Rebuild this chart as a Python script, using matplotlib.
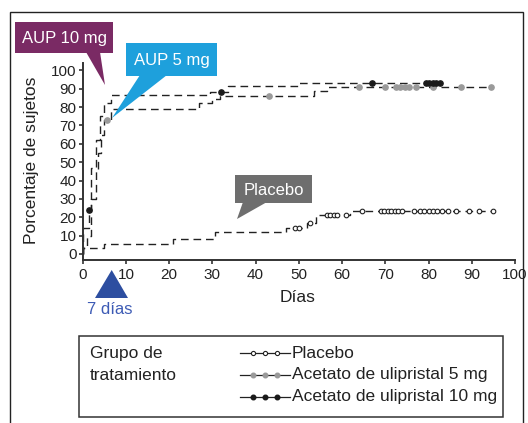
import numpy as np
import matplotlib
matplotlib.use("Agg")
import matplotlib.pyplot as plt
from matplotlib.patches import Polygon, Rectangle

plt.rcParams["font.family"] = ["Liberation Sans", "DejaVu Sans"]

W, H = 528, 423

# step curves (day, % of subjects) and censored days
t_10 = [0, 0, 1.5, 2.0, 3.0, 4.0, 5.0, 6.5, 29.5, 33.5, 50.0, 83.0]
p_10 = [0, 14, 24, 47, 62, 75, 82, 86.5, 88, 91.5, 93, 93]
c_10 = [1.5, 32, 67, 79.3, 80.2, 81.0, 81.8, 82.6]

t_5 = [0, 0, 1.0, 2.0, 3.0, 3.6, 4.3, 5.0, 6.5, 27.0, 30.0, 31.8, 53.5, 56.5, 94.5]
p_5 = [0, 3, 10, 30, 45, 55, 65, 73, 79, 82, 84.6, 86, 89, 91, 91]
c_5 = [5.7, 43, 64, 70, 72.5, 73.5, 74.5, 75.5, 77, 81, 87.5, 94.5]

t_pl = [0, 0, 5.0, 21.0, 30.5, 47.0, 52.0, 54.0, 61.8, 95.0]
p_pl = [0, 3.5, 5.5, 8, 12, 14.3, 16.7, 21, 23.5, 23.5]
c_pl = [49, 50, 52.5, 56.5, 57.3, 58.1, 58.9, 60.8, 64.5, 69, 69.8, 70.6,
        71.4, 72.2, 73, 73.8, 76.6, 78, 79, 80, 81, 82, 83, 84.5, 86.3,
        89.4, 91.7, 94.8]

groups = ["Placebo", "Acetato de ulipristal 5 mg", "Acetato de ulipristal 10 mg"]


def px(x, y):
    return x / W, 1 - y / H


def level(t, p, c):
    idx = np.searchsorted(t, c, side="right") - 1
    return np.array(p)[idx]


fig = plt.figure(figsize=(W / 100, H / 100), dpi=100)

# outer frame
fig.patches.append(Rectangle(px(10, 440), 513 / W, 428 / H, transform=fig.transFigure,
                             fill=False, edgecolor="#222222", lw=1.0))

x0, x1 = 82.7, 515
ytop, ybot = 63, 259.5
ax = fig.add_axes([x0 / W, 1 - ybot / H, (x1 - x0) / W, (ybot - ytop) / H])

dash = (0, (5.5, 3.5))
ax.step(t_pl, p_pl, where="post", color="#222222", lw=1.0, ls=dash, clip_on=False)
ax.step(t_5, p_5, where="post", color="#222222", lw=1.0, ls=dash, clip_on=False)
ax.step(t_10, p_10, where="post", color="#222222", lw=1.0, ls=dash, clip_on=False)

ax.plot(c_pl, level(t_pl, p_pl, c_pl), "o", ms=3.3, mfc="white", mec="#222222", mew=0.8, clip_on=False)
ax.plot(c_5, level(t_5, p_5, c_5), "o", ms=3.8, mfc="#9a9a9a", mec="#9a9a9a", clip_on=False)
ax.plot(c_10, level(t_10, p_10, c_10), "o", ms=3.8, mfc="#1a1a1a", mec="#1a1a1a", clip_on=False)

ax.set_xlim(0, 100)
ax.set_ylim(-3, 104)
ax.set_xticks(range(0, 101, 10))
ax.set_yticks(range(0, 101, 10))
ax.tick_params(direction="out", length=3, width=1.1, labelsize=11, pad=1.5, colors="#222222")
ax.tick_params(axis="x", pad=3)
for s in ["top", "right"]:
    ax.spines[s].set_visible(False)
for s in ["left", "bottom"]:
    ax.spines[s].set_linewidth(1.4)
    ax.spines[s].set_color("#333333")
ax.spines["left"].set_bounds(-3, 104)

fig.text(*px(32, 160), "Porcentaje de sujetos", rotation=90, ha="center", va="center",
         fontsize=12.5, color="#222222")
fig.text(*px(298, 297), "Días", ha="center", va="center", fontsize=12.5, color="#222222")


def callout(box, base, tip, color, label):
    bx0, by0, bx1, by1 = box
    fig.patches.append(Polygon([px(bx0, by0), px(bx1, by0), px(bx1, by1), px(bx0, by1)],
                               closed=True, transform=fig.transFigure, color=color, lw=0))
    fig.patches.append(Polygon([px(base[0], by1 - 1), px(base[1], by1 - 1), px(*tip)],
                               closed=True, transform=fig.transFigure, color=color, lw=0))
    fig.text(*px((bx0 + bx1) / 2, (by0 + by1) / 2 + 1), label, ha="center", va="center",
             color="white", fontsize=12)


callout((15, 22, 113, 53), (86, 100), (105, 85), "#7a2a64", "AUP 10 mg")
callout((126, 43, 217, 76), (140, 167), (112, 118), "#1ea0dc", "AUP 5 mg")
callout((235, 175, 312, 203), (243, 267), (237, 219), "#6e6e6e", "Placebo")

# 7 days marker
fig.patches.append(Polygon([px(111.7, 270), px(95, 298), px(128, 298)], closed=True,
                           transform=fig.transFigure, color="#2d4ea0", lw=0))
fig.text(*px(110, 310), "7 días", ha="center", va="center", fontsize=12, color="#3d5bb5")

# legend box
fig.patches.append(Rectangle(px(79, 417), (503 - 79) / W, (417 - 336) / H,
                             transform=fig.transFigure, fill=False, edgecolor="#333333", lw=1.1))
fig.text(*px(90, 353), "Grupo de", ha="left", va="center", fontsize=12.5, color="#222222")
fig.text(*px(90, 375), "tratamiento", ha="left", va="center", fontsize=12.5, color="#222222")

leg_styles = [dict(mfc="white", mec="#222222", ms=3.0, mew=0.8),
              dict(mfc="#9a9a9a", mec="#9a9a9a", ms=3.3),
              dict(mfc="#1a1a1a", mec="#1a1a1a", ms=3.3)]
lax = fig.add_axes([0, 0, 1, 1], facecolor="none")
lax.set_xlim(0, W)
lax.set_ylim(H, 0)
lax.axis("off")
for i, (name, st) in enumerate(zip(groups, leg_styles)):
    yy = 353 + i * 22
    lax.plot([240, 290], [yy, yy], color="#222222", lw=0.9)
    lax.plot([253, 265, 277], [yy] * 3, "o", ls="none", **st)
    lax.text(292, yy, name, ha="left", va="center", fontsize=12.5, color="#222222")

fig.savefig("out.png", dpi=100)
